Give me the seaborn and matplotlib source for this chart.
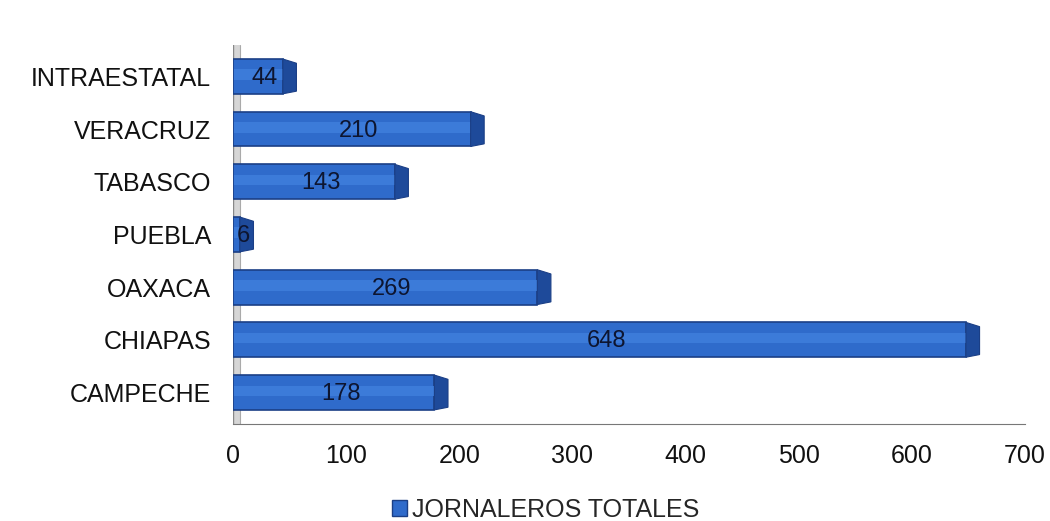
import pandas as pd
import seaborn as sns
import matplotlib.pyplot as plt
from matplotlib.patches import Rectangle, Polygon

# datos
estados = ["INTRAESTATAL", "VERACRUZ", "TABASCO", "PUEBLA", "OAXACA", "CHIAPAS", "CAMPECHE"]
jornaleros = [44, 210, 143, 6, 269, 648, 178]
serie = "JORNALEROS TOTALES"

df = pd.DataFrame({"estado": estados, "total": jornaleros})

sns.set_style("white")
plt.rcParams["font.family"] = ["Liberation Sans", "DejaVu Sans"]

fig = plt.figure(figsize=(10.5, 5.21), dpi=100)
ax = fig.add_axes([0.222, 0.186, 0.754, 0.728])

azul = "#2F6BCB"
borde = "#1B3F86"

sns.barplot(data=df, y="estado", x="total", color=azul, width=0.66,
            edgecolor=borde, linewidth=1.2, ax=ax, saturation=1)

barras = list(ax.patches)
# un poco de brillo y la cara lateral para simular el efecto 3d
for p in barras:
    p.set_zorder(3)
    x0, y0 = p.get_x(), p.get_y()
    w, h = p.get_width(), p.get_height()
    ax.add_patch(Rectangle((x0 + 1, y0 + h * 0.3), w - 1, h * 0.3, color="#3C7BD9",
                           lw=0, zorder=3.1))
    ax.add_patch(Polygon([[x0 + w, y0], [x0 + w + 12, y0 + 0.08], [x0 + w + 12, y0 + h - 0.05],
                          [x0 + w, y0 + h]], closed=True, facecolor="#1E4A9A",
                         edgecolor=borde, lw=0.8, zorder=3.2))

for i, v in enumerate(jornaleros):
    ax.text(v / 2 + 6, i + 0.03, str(v), ha="center", va="center", fontsize=17,
            color="#0d1530", zorder=5)

# pared lateral gris
ax.axvspan(0, 6, color="#d6d6d6", zorder=0, lw=0)
ax.axvline(0, color="#888888", lw=1.0, zorder=1)
ax.axvline(6, color="#aaaaaa", lw=0.8, zorder=1)

ax.set_xlim(0, 700)
ax.set_ylim(6.6, -0.6)
ax.set_xticks(range(0, 701, 100))
ax.set_xlabel("")
ax.set_ylabel("")
ax.tick_params(axis="x", labelsize=18, length=0, pad=14, labelcolor="#111111")
ax.tick_params(axis="y", labelsize=18, length=0, pad=16, labelcolor="#111111")
for s in ["top", "right", "left"]:
    ax.spines[s].set_visible(False)
ax.spines["bottom"].set_color("#777777")

h = [Rectangle((0, 0), 1, 1, facecolor=azul, edgecolor=borde)]
fig.legend(h, [serie], loc="lower center", bbox_to_anchor=(0.52, -0.045), frameon=False,
           fontsize=18, handlelength=0.6, handleheight=0.6, handletextpad=0.2)

fig.savefig("out.png", dpi=100)
